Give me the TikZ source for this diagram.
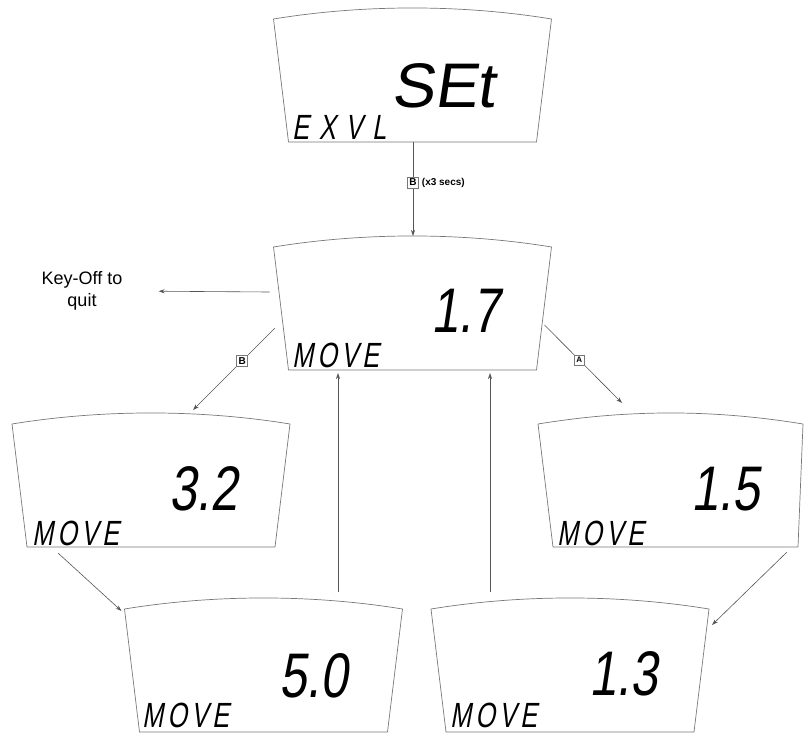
\documentclass[tikz,border=0pt]{standalone}
\usepackage{fontspec}
\usetikzlibrary{arrows.meta}
\newfontfamily\lcdfont[FakeSlant=0.15,FakeStretch=0.78]{Liberation Sans}
\newfontfamily\lcdwidefont[FakeSlant=0.15,FakeStretch=1.02]{Liberation Sans}
\newfontfamily\lcdsmallfont[FakeSlant=0.18,FakeStretch=0.72,LetterSpace=12]{Liberation Sans}
\newfontfamily\lcdspacedfont[FakeSlant=0.18,FakeStretch=0.72,LetterSpace=28]{Liberation Sans}
\newfontfamily\labelfont{Liberation Sans}
\definecolor{lcdgray}{RGB}{120,120,120}
\definecolor{conngray}{RGB}{85,85,85}
\newcommand\lcdframe[3]{%
  \draw[lcdline] ([yshift=-11pt]#1.north west)
    .. controls ([xshift=90pt,yshift=3.7pt]#1.north west) and ([xshift=-90pt,yshift=3.7pt]#1.north east)
    .. ([yshift=-11pt]#1.north east) -- ([xshift=-#3]#1.south east) -- ([xshift=#2]#1.south west) -- cycle;}
\begin{document}
\begin{tikzpicture}[x=1pt,y=-1pt,
  lcdline/.style={draw=lcdgray,line width=0.7pt,line join=round},
  lcdnode/.style={minimum width=278pt,minimum height=134pt,inner sep=0pt,outer sep=0pt},
  bigtext/.style={font=\lcdfont\fontsize{63pt}{63pt}\selectfont,inner sep=0pt,anchor=base east},
  smalltext/.style={font=\lcdsmallfont\fontsize{35pt}{35pt}\selectfont,inner sep=0pt,anchor=base west},
  conn/.style={draw=conngray,line width=0.6pt,-{Stealth[length=6pt,width=4pt]}},
  keybox/.style={draw=lcdgray,fill=white,line width=0.5pt,inner sep=1.2pt,minimum size=11pt,font=\labelfont\bfseries\fontsize{10pt}{10pt}\selectfont},
  lbl/.style={font=\labelfont\fontsize{18pt}{22pt}\selectfont,align=center,inner sep=3pt}]
\useasboundingbox (0,0) rectangle (804,734);

% displays
\node[lcdnode] (d0) at (412.5,75) {};
\node[lcdnode] (d1) at (412.5,303) {};
\node[lcdnode] (d2) at (151,480) {};
\node[lcdnode,minimum width=265pt] (d3) at (670.5,480) {};
\node[lcdnode] (d4) at (263.5,665) {};
\node[lcdnode] (d5) at (570,665) {};
\lcdframe{d0}{15pt}{15pt}
\lcdframe{d1}{15pt}{15pt}
\lcdframe{d2}{15pt}{15pt}
\lcdframe{d3}{15pt}{5pt}
\lcdframe{d4}{15pt}{15pt}
\lcdframe{d5}{15pt}{15pt}

% display texts
\node[bigtext,font=\lcdwidefont\fontsize{63pt}{63pt}\selectfont] (t0) at (495,107) {SEt};
\node[smalltext,font=\lcdspacedfont\fontsize{35pt}{35pt}\selectfont] (s0) at (292,139) {EXVL};
\node[bigtext] (t1) at (500,332) {1.7};
\node[smalltext] (s1) at (292,367) {MOVE};
\node[bigtext] (t2) at (238,510) {3.2};
\node[smalltext] (s2) at (32,545) {MOVE};
\node[bigtext] (t3) at (760,510) {1.5};
\node[smalltext] (s3) at (557,545) {MOVE};
\node[bigtext] (t4) at (348,697) {5.0};
\node[smalltext] (s4) at (142,727) {MOVE};
\node[bigtext] (t5) at (658,695) {1.3};
\node[smalltext] (s5) at (450,727) {MOVE};

% label
\node[lbl] (key) at (82,291) {Key-Off to\\quit};

% connectors
\draw[conn] ([xshift=0.5pt]d0.south) -- node[pos=0.43,keybox] (kb0) {B} ([xshift=0.5pt]d1.north);
\node[font=\labelfont\bfseries\fontsize{10pt}{10pt}\selectfont,anchor=west,inner sep=1pt] (secs) at ([xshift=2pt]kb0.east) {(x3 secs)};
\draw[conn,shorten >=33pt] ([xshift=-4pt,yshift=11pt]d1.west) -- (key.east);
\draw[conn] ([xshift=1.5pt,yshift=-25pt]d1.west) -- node[pos=0.4,keybox] (kb1) {B} ([xshift=42pt,yshift=3pt]d2.north);
\draw[conn] ([xshift=-7pt,yshift=-22pt]d1.east) -- node[pos=0.45,keybox,minimum size=10pt,font=\labelfont\bfseries\fontsize{8pt}{8pt}\selectfont] (ka1) {A} ([xshift=-48.5pt,yshift=10pt]d3.north);
\draw[conn] ([xshift=-93pt,yshift=-6pt]d2.south) -- ([xshift=-3pt,yshift=-13pt]d4.north west);
\draw[conn] ([xshift=116.5pt,yshift=-5pt]d3.south) -- ([xshift=3pt,yshift=-27pt]d5.north east);
\draw[conn] ([xshift=74.5pt,yshift=6pt]d4.north) -- ([xshift=-74.5pt,yshift=-3pt]d1.south);
\draw[conn] ([xshift=-80pt,yshift=6pt]d5.north) -- ([xshift=77.5pt,yshift=-3pt]d1.south);
\end{tikzpicture}
\end{document}
